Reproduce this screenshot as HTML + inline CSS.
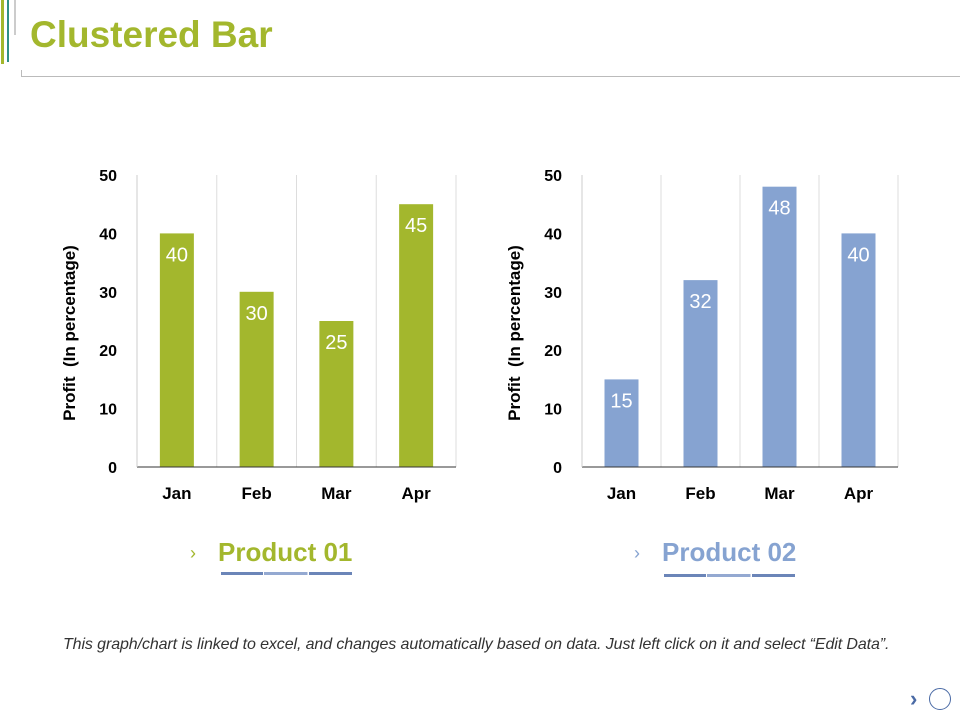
<!DOCTYPE html>
<html><head><meta charset="utf-8"><style>
body{margin:0;width:960px;height:720px;background:#fff;overflow:hidden;font-family:"Liberation Sans",Arial,sans-serif;position:relative}
.abs{position:absolute}
</style></head><body>
<div class="abs" style="left:1px;top:0;width:3px;height:64px;background:#a3b72d"></div>
<div class="abs" style="left:7px;top:0;width:2px;height:62px;background:#2f8f86"></div>
<div class="abs" style="left:14px;top:0;width:2px;height:35px;background:#ccc"></div>
<div class="abs" style="left:30px;top:14px;font-size:37px;font-weight:bold;color:#a3b72d">Clustered Bar</div>
<div class="abs" style="left:21px;top:76px;width:939px;height:1px;background:#bbb"></div>
<div class="abs" style="left:21px;top:70px;width:1px;height:7px;background:#bbb"></div>
<svg class="abs" style="left:0;top:0" width="960" height="720" id="chart"></svg>
<div class="abs" style="left:190px;top:543px;font-size:18px;color:#a3b72d">›</div>
<div class="abs" style="left:218px;top:537px;font-size:26px;font-weight:bold;color:#a3b72d">Product 01</div>
<div class="abs" style="left:221px;top:572px;width:131px;height:3px;background:linear-gradient(90deg,#6b85b8 0 32%,#fff 32% 33%,#94a9d1 33% 66%,#fff 66% 67%,#6b85b8 67%)"></div>
<div class="abs" style="left:634px;top:543px;font-size:18px;color:#86a3d1">›</div>
<div class="abs" style="left:662px;top:537px;font-size:26px;font-weight:bold;color:#86a3d1">Product 02</div>
<div class="abs" style="left:664px;top:574px;width:131px;height:3px;background:linear-gradient(90deg,#6b85b8 0 32%,#fff 32% 33%,#94a9d1 33% 66%,#fff 66% 67%,#6b85b8 67%)"></div>
<div class="abs" style="left:63px;top:636px;font-size:16px;font-style:italic;color:#333;white-space:nowrap;letter-spacing:-0.1px">This graph/chart is linked to excel, and changes automatically based on data. Just left click on it and select “Edit Data”.</div>
<div class="abs" style="left:910px;top:686px;font-size:22px;font-weight:bold;color:#4a6aa5">›</div>
<div class="abs" style="left:929px;top:688px;width:20px;height:20px;border:1px solid #4a6aa5;border-radius:50%"></div>
<script>
const categories=["Jan","Feb","Mar","Apr"];
const product1=[40,30,25,45];
const product2=[15,32,48,40];
const yTicks=[0,10,20,30,40,50];
const svg=document.getElementById('chart');
const NS='http://www.w3.org/2000/svg';
function mk(t,a,txt){const e=document.createElementNS(NS,t);for(const k in a)e.setAttribute(k,a[k]);if(txt!==undefined)e.textContent=txt;svg.appendChild(e);return e;}
function draw(x0,x1,vals,color,key){
  const yTop=175,yBot=467,max=50;
  const y=v=>yBot-(v/max)*(yBot-yTop);
  const bw=(x1-x0)/categories.length;
  const x=i=>x0+bw*(i+0.5);
  for(let i=0;i<=categories.length;i++){
    const g=mk('line',{x1:x0+bw*i,x2:x0+bw*i,y1:yTop,y2:yBot,stroke:'#ddd','stroke-width':1});
    
    
  }
  yTicks.forEach(t=>{
    const e=mk('text',{x:x0-20,y:y(t)+6,'text-anchor':'end','font-size':16,'font-weight':'bold',fill:'#000'},t);
    
    
  });
  vals.forEach((v,i)=>{
    const b=mk('rect',{x:x(i)-17,y:y(v),width:34,height:yBot-y(v),fill:color});
    
    
    const l=mk('text',{x:x(i),y:y(v)+28,'text-anchor':'middle','font-size':20,fill:'#fff'},v);
    
    
    const c=mk('text',{x:x(i),y:499,'text-anchor':'middle','font-size':17,'font-weight':'bold',fill:'#000'},categories[i]);
    
    
  });
  const ax=mk('line',{x1:x0,x2:x1,y1:yBot,y2:yBot,stroke:'#333','stroke-width':1});
  
  
  const ay=mk('line',{x1:x0,x2:x0,y1:yTop,y2:yBot,stroke:'#ccc','stroke-width':1});
  
  
  const tx=x0-62;
  const t=mk('text',{x:tx,y:333,'text-anchor':'middle','font-size':17,'font-weight':'bold',fill:'#000',transform:`rotate(-90 ${tx} 333)`},'Profit  (In percentage)');
  
  
  t.setAttribute('xml:space','preserve');
  t.style.whiteSpace='pre';
}
draw(137,456,product1,'#a3b72d','p1');
draw(582,898,product2,'#86a3d1','p2');
</script>
</body></html>
